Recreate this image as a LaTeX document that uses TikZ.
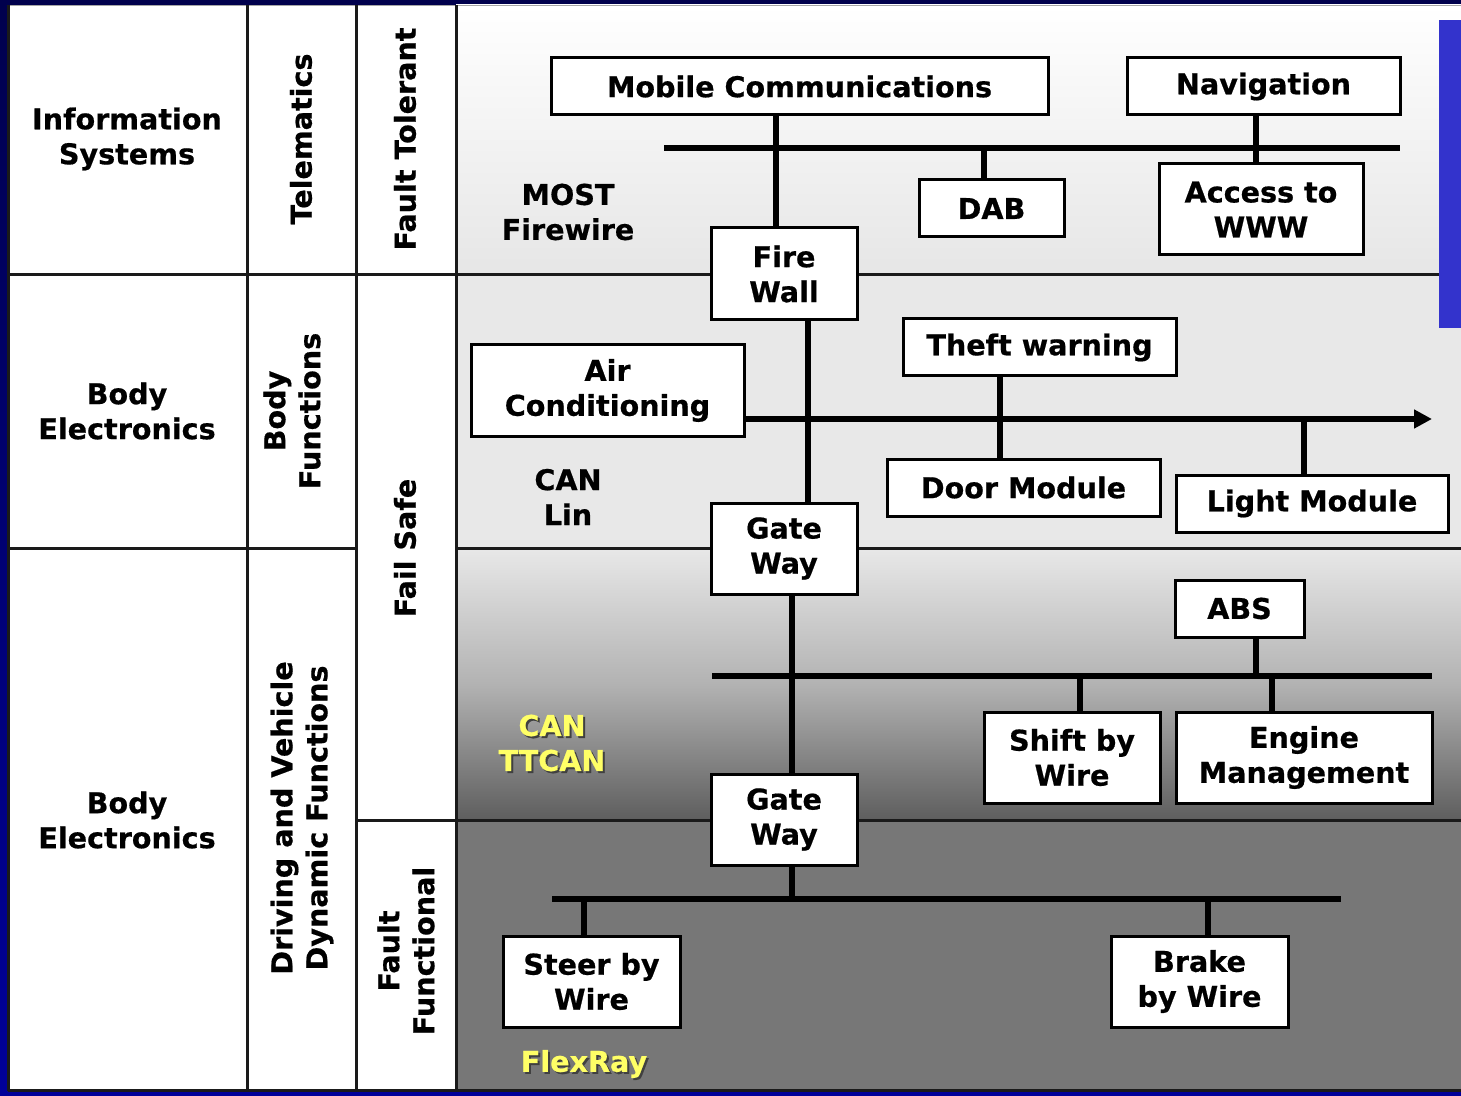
\documentclass[tikz,border=0pt]{standalone}
\usepackage{fontspec}
\setmainfont{DejaVu Sans}[BoldFeatures={FakeBold=0.6}]
\usetikzlibrary{arrows.meta}
\definecolor{navyA}{HTML}{00004D}
\definecolor{navyB}{HTML}{000099}
\definecolor{bandA}{HTML}{E6E6E6}
\definecolor{bandB}{HTML}{E8E8E8}
\definecolor{bandC}{HTML}{5E5E5E}
\definecolor{bandD}{HTML}{777777}
\definecolor{gridc}{HTML}{1A1A1A}
\definecolor{blueR}{HTML}{3333CC}
\definecolor{yel}{HTML}{FFFF66}
\tikzset{
  x=0.5pt, y=-0.5pt,
  txt/.style={font=\bfseries\fontsize{14.3}{17.5}\selectfont, align=center, inner sep=0pt},
  box/.style={txt, draw=black, line width=1.5pt, fill=white},
  sz/.style 2 args={minimum width=#1*0.5pt, minimum height=#2*0.5pt},
  gridline/.style={draw=gridc, line width=1.5pt},
  bus/.style={draw=black, line width=3pt},
  vlab/.style={txt, rotate=90},
  ylab/.style={txt, text=yel},
  yshadow/.style={txt, text=black!75},
}
\begin{document}
\begin{tikzpicture}
\useasboundingbox (0,0) rectangle (1461,1096);
% frame and backgrounds
\shade[top color=navyA, bottom color=navyB] (0,0) rectangle (1461,1096);
\fill[white] (7,5) rectangle (456,1091);
\shade[top color=white, bottom color=bandA] (456,5) rectangle (1461,275);
\fill[bandB] (456,275) rectangle (1461,548);
\shade[top color=bandB, bottom color=bandC, middle color=black!30] (456,548) rectangle (1461,820);
\fill[bandD] (456,820) rectangle (1461,1091);
\draw[gray!70, line width=0.8pt] (8,5.5) -- (1461,5.5);
% table grid
\draw[gridline] (8,5) -- (8,1091);
\draw[gridline] (247,5) -- (247,1091);
\draw[gridline] (356,5) -- (356,1091);
\draw[gridline] (456,5) -- (456,1091);
\draw[gridline] (8,275) -- (1461,275);
\draw[gridline] (8,548) -- (356,548);
\draw[gridline] (456,548) -- (1461,548);
\draw[gridline] (356,820) -- (1461,820);
\draw[gridline] (8,1090) -- (1461,1090);
% blue panel at right edge
\fill[blueR] (1439,20) rectangle (1461,328);
% column labels
\node[txt] (is) at (127,139) {Information\\Systems};
\node[txt] (be1) at (127,411) {Body\\Electronics};
\node[txt] (be2) at (127,820) {Body\\Electronics};
\node[vlab] (tel) at (301,139) {Telematics};
\node[vlab] (bf) at (292,411) {Body\\Functions};
\node[vlab] (dv) at (302,818) {Driving and Vehicle\\Dynamic Functions};
\node[vlab] (ft) at (405,139) {Fault Tolerant};
\node[vlab] (fs) at (405,548) {Fail Safe};
\node[vlab] (ff) at (406,951) {Fault\\Functional};
% bus labels
\node[txt] (most) at (568,212) {MOST\\Firewire};
\node[txt] (canlin) at (568,497) {CAN\\Lin};
\node[yshadow] at (554,745) {CAN\\TTCAN};
\node[ylab] (ttcan) at (552,743) {CAN\\TTCAN};
\node[yshadow] at (586,1066) {FlexRay};
\node[ylab] (flex) at (584,1064) {FlexRay};
% boxes
\node[box, sz={497}{57}] (mc) at (799.5,86.5) {Mobile Communications};
\node[box, sz={273}{57}] (nav) at (1263.5,86.5) {Navigation};
\node[box, sz={145}{57}] (dab) at (991.5,208.5) {DAB};
\node[box, sz={204}{91}] (www) at (1261,209.5) {Access to\\WWW};
\node[box, sz={146}{92}] (fw) at (784,274) {Fire\\Wall};
\node[box, sz={273}{91}] (ac) at (607.5,390.5) {Air\\Conditioning};
\node[box, sz={273}{57}] (theft) at (1039.5,347.5) {Theft warning};
\node[box, sz={273}{57}] (door) at (1023.5,487.5) {Door Module};
\node[box, sz={272}{57}] (light) at (1312,503.5) {Light Module};
\node[box, sz={146}{91}] (gw1) at (784,548.5) {Gate\\Way};
\node[box, sz={129}{57}] (abs) at (1239.5,608.5) {ABS};
\node[box, sz={176}{91}] (shift) at (1072,757.5) {Shift by\\Wire};
\node[box, sz={256}{91}] (eng) at (1304,757.5) {Engine\\Management};
\node[box, sz={146}{91}] (gw2) at (784,819.5) {Gate\\Way};
\node[box, sz={177}{91}] (steer) at (591.5,981.5) {Steer by\\Wire};
\node[box, sz={177}{91}] (brake) at (1199.5,981.5) {Brake\\by Wire};
% bus end points
\coordinate (b1l) at (664,148);
\coordinate (b1r) at (1400,148);
\coordinate (b2r) at (1432,419);
\coordinate (b3l) at (712,676);
\coordinate (b3r) at (1432,676);
\coordinate (b4l) at (552,899);
\coordinate (b4r) at (1341,899);
% tap columns
\coordinate (t1) at (776,0);
\coordinate (t2) at (1256,0);
\coordinate (t3) at (984,0);
\coordinate (t4) at (808,0);
\coordinate (t5) at (1000,0);
\coordinate (t6) at (1304,0);
\coordinate (t7) at (792,0);
\coordinate (t8) at (1080,0);
\coordinate (t9) at (1272,0);
\coordinate (t10) at (584,0);
\coordinate (t11) at (1208,0);
% buses
\draw[bus] (b1l) -- (b1r);
\draw[bus, -{Triangle[length=9pt,width=9pt]}] (ac.east |- b2r) -- (b2r);
\draw[bus] (b3l) -- (b3r);
\draw[bus] (b4l) -- (b4r);
% connectors
\draw[bus] (mc.south -| t1) -- (fw.north -| t1);
\draw[bus] (nav.south -| t2) -- (www.north -| t2);
\draw[bus] (b1l -| t3) -- (dab.north -| t3);
\draw[bus] (fw.south -| t4) -- (gw1.north -| t4);
\draw[bus] (theft.south -| t5) -- (door.north -| t5);
\draw[bus] (b2r -| t6) -- (light.north -| t6);
\draw[bus] (gw1.south -| t7) -- (gw2.north -| t7);
\draw[bus] (abs.south -| t2) -- (b3l -| t2);
\draw[bus] (b3l -| t8) -- (shift.north -| t8);
\draw[bus] (b3l -| t9) -- (eng.north -| t9);
\draw[bus] (gw2.south -| t7) -- (b4l -| t7);
\draw[bus] (b4l -| t10) -- (steer.north -| t10);
\draw[bus] (b4l -| t11) -- (brake.north -| t11);
\end{tikzpicture}
\end{document}
